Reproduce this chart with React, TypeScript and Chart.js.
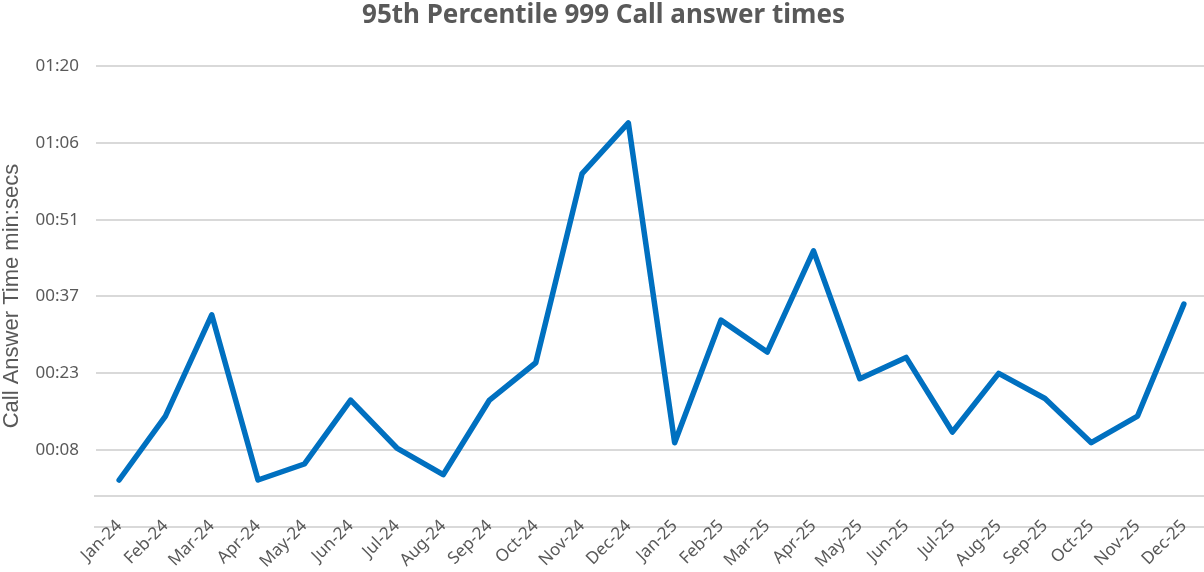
import React, { useEffect, useRef } from "react";
import { Chart, registerables } from "chart.js";

Chart.register(...registerables);

const monthLabels = [
  "Jan-24", "Feb-24", "Mar-24", "Apr-24", "May-24", "Jun-24",
  "Jul-24", "Aug-24", "Sep-24", "Oct-24", "Nov-24", "Dec-24",
  "Jan-25", "Feb-25", "Mar-25", "Apr-25", "May-25", "Jun-25",
  "Jul-25", "Aug-25", "Sep-25", "Oct-25", "Nov-25", "Dec-25",
];

// 95th percentile answer time, in seconds
const answerSeconds = [
  3, 15, 34, 3, 6, 18, 9, 4, 18, 25, 60.5, 70,
  10, 33, 27, 46, 22, 26, 12, 23, 18.3, 10, 15, 36,
];

// Excel-style axis: ticks every 14.4 s (0.0001667 day), first label at 8.64 s
const yTickValues = [0, 8.64, 23.04, 37.44, 51.84, 66.24, 80.64];

const TITLE = "95th Percentile 999 Call answer times";
const Y_TITLE = "Call Answer Time min:secs";

function fmtMinSec(v: number): string {
  if (v === 0) return "";
  const t = Math.floor(v + 1e-6);
  const m = Math.floor(t / 60);
  const s = t % 60;
  return String(m).padStart(2, "0") + ":" + String(s).padStart(2, "0");
}

const GRID = "#d9d9d9";
const TEXT = "#595959";

const extraDecor = {
  id: "extraDecor",
  afterDraw(chart: any) {
    const { ctx, chartArea } = chart;
    const yScale = chart.scales.y;
    ctx.save();
    ctx.strokeStyle = GRID;
    ctx.lineWidth = 2;
    ctx.globalCompositeOperation = "destination-over";
    const y0 = Math.round(yScale.getPixelForValue(0));
    const y1 = chartArea.bottom + 31;
    ctx.beginPath();
    ctx.moveTo(chartArea.left - 2, y0);
    ctx.lineTo(chartArea.right, y0);
    ctx.moveTo(chartArea.left - 2, y1);
    ctx.lineTo(chartArea.right, y1);
    ctx.stroke();
    ctx.restore();

    // vertical axis title
    ctx.save();
    ctx.fillStyle = TEXT;
    ctx.font = "22px 'Liberation Sans', Arial, sans-serif";
    ctx.textAlign = "center";
    ctx.textBaseline = "middle";
    ctx.translate(12, (chartArea.top + chartArea.bottom) / 2 + 15);
    ctx.rotate(-Math.PI / 2);
    ctx.fillText(Y_TITLE, 0, 0);
    ctx.restore();
  },
};

export default function App() {
  const ref = useRef<HTMLCanvasElement | null>(null);

  useEffect(() => {
    if (!ref.current) return;
    const chart = new Chart(ref.current, {
      type: "line",
      data: {
        labels: monthLabels,
        datasets: [
          {
            data: answerSeconds,
            borderColor: "#0070C0",
            backgroundColor: "#0070C0",
            borderWidth: 5.5,
            pointRadius: 0,
            tension: 0,
            borderJoinStyle: "round",
            borderCapStyle: "round",
          },
        ],
      },
      options: {
        animation: false,
        responsive: false,
        devicePixelRatio: 1,
        layout: { padding: { left: 0, right: 3, top: 0, bottom: 0 } },
        plugins: {
          legend: { display: false },
          tooltip: { enabled: false },
          title: {
            display: true,
            text: TITLE,
            color: TEXT,
            font: { family: "'Noto Sans', sans-serif", size: 26, weight: "bold", lineHeight: 1.2 },
            padding: { top: 0, bottom: 35 },
          },
        },
        scales: {
          x: {
            type: "category",
            offset: true,
            grid: { display: false, drawTicks: false },
            border: { display: false },
            ticks: {
              color: TEXT,
              font: { family: "'Noto Sans', sans-serif", size: 17 },
              minRotation: 45,
              maxRotation: 45,
              autoSkip: false,
              padding: 20,
            },
            afterFit(scale: any) {
              scale.height = 76;
              scale.paddingLeft = 0;
              scale.paddingRight = 0;
            },
          },
          y: {
            type: "linear",
            min: 0,
            max: 80.64,
            grid: { color: GRID, lineWidth: 2, drawTicks: false },
            border: { display: false },
            ticks: {
              color: TEXT,
              font: { family: "'Noto Sans', sans-serif", size: 17 },
              padding: 17,
              autoSkip: false,
              callback: (v: any) => fmtMinSec(Number(v)),
            },
            afterBuildTicks(scale: any) {
              scale.ticks = yTickValues.map((v) => ({ value: v }));
            },
            afterFit(scale: any) {
              scale.width = 96;
            },
          },
        },
      },
      plugins: [extraDecor],
    });
    return () => chart.destroy();
  }, []);

  return (
    <div
      style={{
        position: "fixed",
        left: 0,
        top: 0,
        width: 1204,
        height: 572,
        overflow: "hidden",
        background: "#fff",
      }}
    >
      <canvas ref={ref} width={1210} height={572} style={{ width: 1210, height: 572, display: "block" }} />
    </div>
  );
}
